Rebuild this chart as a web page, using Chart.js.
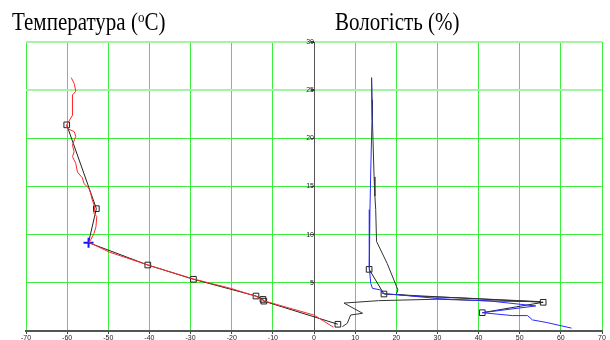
<!DOCTYPE html>
<html>
<head>
<meta charset="utf-8">
<script src="https://cdn.jsdelivr.net/npm/chart.js@4.4.1/dist/chart.umd.min.js"></script>
<style>
body { margin: 0; background: #fff; }
#wrap { position: relative; width: 610px; height: 340px; }
#chart { position: absolute; left: 0; top: 0; }
.ttl { position: absolute; font-family: "Liberation Serif", serif; font-size: 21px; line-height: 1; color: #000; white-space: nowrap; transform-origin: left top; transform: scaleY(1.15); }
.ttl sup { font-size: 13px; vertical-align: 7px; line-height: 0; }
</style>
</head>
<body>
<div id="wrap">
    <canvas id="chart" width="610" height="340"></canvas>
    <div class="ttl" style="left:12px; top:10px;">Температура (<sup>o</sup>C)</div>
    <div class="ttl" style="left:335px; top:10px;">Вологість (%)</div>
</div>
<script>
// temperature profile (red), from top down
const tempT = [-59.0, -58.3, -57.9, -58.7, -58.7, -60.1, -59.9, -58.3, -57.9, -58.7, -58.3, -58.7, -57.9, -57.5, -56.3, -55.9, -54.7, -54.3, -53.9, -53.3, -53.5, -52.8, -53.0, -53.5, -54.3, -54.7, -49.8, -40.4, -29.3, -20.0, -14.1, -12.3, 0.0, 4.7];
const tempH = [26.3, 25.7, 24.9, 24.5, 22.4, 21.4, 21.0, 20.7, 20.2, 19.3, 18.6, 18.1, 17.4, 16.5, 15.9, 15.3, 14.8, 14.3, 13.6, 12.9, 12.2, 11.9, 10.8, 10.1, 9.45, 9.2, 8.2, 6.85, 5.4, 4.4, 3.6, 3.15, 1.65, 0.4];

// temperature at the marked levels (black line, squares, tropopause cross)
const tempMarkT = [-60.1, -52.9, -54.8, -40.4, -29.3, -14.1, -12.4, -12.2, 5.8];
const tempMarkH = [21.4, 12.7, 9.17, 6.85, 5.37, 3.63, 3.28, 3.1, 0.7];
const tempMarkKind = ['rect', 'rect', 'cross', 'rect', 'rect', 'rect', 'rect', 'rect', 'rect'];

// humidity profile (blue)
const humBlue = [14.0, 14.1, 13.8, 13.6, 13.5, 13.4, 13.8, 14.2, 16.2, 16.6, 21.9, 30.6, 43.0, 53.9, 40.9, 48.2, 51.9, 53.1, 56.7, 62.6];
const humBlueH = [26.3, 22.0, 16.7, 12.6, 8.75, 6.5, 4.95, 4.43, 4.26, 3.9, 3.7, 3.35, 3.1, 2.6, 1.9, 1.6, 1.6, 1.15, 0.87, 0.3];

// humidity profile (dark)
const humDark = [14.0, 14.1, 14.2, 14.4, 14.6, 14.8, 15.0, 15.2, 17.8, 20.4, 20.0, 25.0, 35.0, 45.0, 55.0, 45.0, 30.0, 15.7, 7.3, 11.8, 8.9, 8.1, 6.9];
const humDarkH = [26.3, 24.0, 21.9, 19.0, 16.0, 14.0, 12.6, 9.3, 7.0, 4.26, 3.8, 3.6, 3.45, 3.25, 3.05, 3.1, 3.3, 3.15, 2.9, 1.84, 1.66, 0.8, 0.45];

// humidity at the marked levels
const humMarkV = [13.4, 17.0, 55.7, 40.9];
const humMarkH = [6.4, 3.84, 2.98, 1.9];

const xTicks = [-70, -60, -50, -40, -30, -20, -10, 0, 10, 20, 30, 40, 50, 60, 70];
const yTicks = [0, 5, 10, 15, 20, 25, 30];

const pts = (xs, ys) => xs.map((x, i) => ({ x: x, y: ys[i] }));

const gridGreen = '#3cee3c';
const tickFont = { family: 'Liberation Sans', size: 7 };

new Chart(document.getElementById('chart'), {
    type: 'scatter',
    data: {
        datasets: [
            {
                data: pts(tempT, tempH),
                showLine: true,
                borderColor: '#ff2a2a',
                borderWidth: 1,
                pointRadius: 0
            },
            {
                data: pts(tempMarkT, tempMarkH),
                showLine: true,
                borderColor: '#222',
                borderWidth: 1,
                pointStyle: tempMarkKind,
                pointRadius: tempMarkKind.map(k => k === 'cross' ? 5 : 4),
                pointBorderColor: tempMarkKind.map(k => k === 'cross' ? '#1414ff' : '#222'),
                pointBorderWidth: tempMarkKind.map(k => k === 'cross' ? 2 : 1),
                pointBackgroundColor: 'rgba(0,0,0,0)'
            },
            {
                data: pts(humBlue, humBlueH),
                showLine: true,
                borderColor: '#2a2aff',
                borderWidth: 1,
                pointRadius: 0
            },
            {
                data: pts(humDark, humDarkH),
                showLine: true,
                borderColor: '#333',
                borderWidth: 1,
                pointRadius: 0
            },
            {
                data: pts(humMarkV, humMarkH),
                showLine: true,
                borderColor: '#222',
                borderWidth: 1,
                pointStyle: 'rect',
                pointRadius: 4,
                pointBorderColor: '#222',
                pointBorderWidth: 1,
                pointBackgroundColor: 'rgba(0,0,0,0)'
            }
        ]
    },
    options: {
        responsive: false,
        animation: false,
        layout: { padding: { left: 26, right: 8, top: 42, bottom: 0 } },
        plugins: { legend: { display: false }, tooltip: { enabled: false } },
        scales: {
            x: {
                type: 'linear',
                position: 'bottom',
                min: -70,
                max: 70,
                afterBuildTicks: s => { s.ticks = xTicks.map(v => ({ value: v })); },
                afterFit: s => { s.height = 9; },
                grid: { color: gridGreen, lineWidth: 1, tickLength: 3, tickColor: '#444' },
                border: { color: '#555', width: 2 },
                ticks: { font: tickFont, color: '#222', padding: 0, maxRotation: 0, autoSkip: false }
            },
            y: {
                type: 'linear',
                position: { x: 0 },
                min: 0,
                max: 30,
                afterBuildTicks: s => { s.ticks = yTicks.map(v => ({ value: v })); },
                grid: {
                    color: c => c.tick && c.tick.value >= 25 ? '#a4f4a4' : gridGreen,
                    lineWidth: c => c.tick && c.tick.value >= 25 ? 2 : 1,
                    tickLength: 3,
                    tickColor: '#444'
                },
                border: { color: '#555', width: 1 },
                ticks: {
                    font: tickFont,
                    color: '#222',
                    padding: 0,
                    callback: v => v === 0 ? '' : v
                }
            }
        }
    }
});
</script>
</body>
</html>
